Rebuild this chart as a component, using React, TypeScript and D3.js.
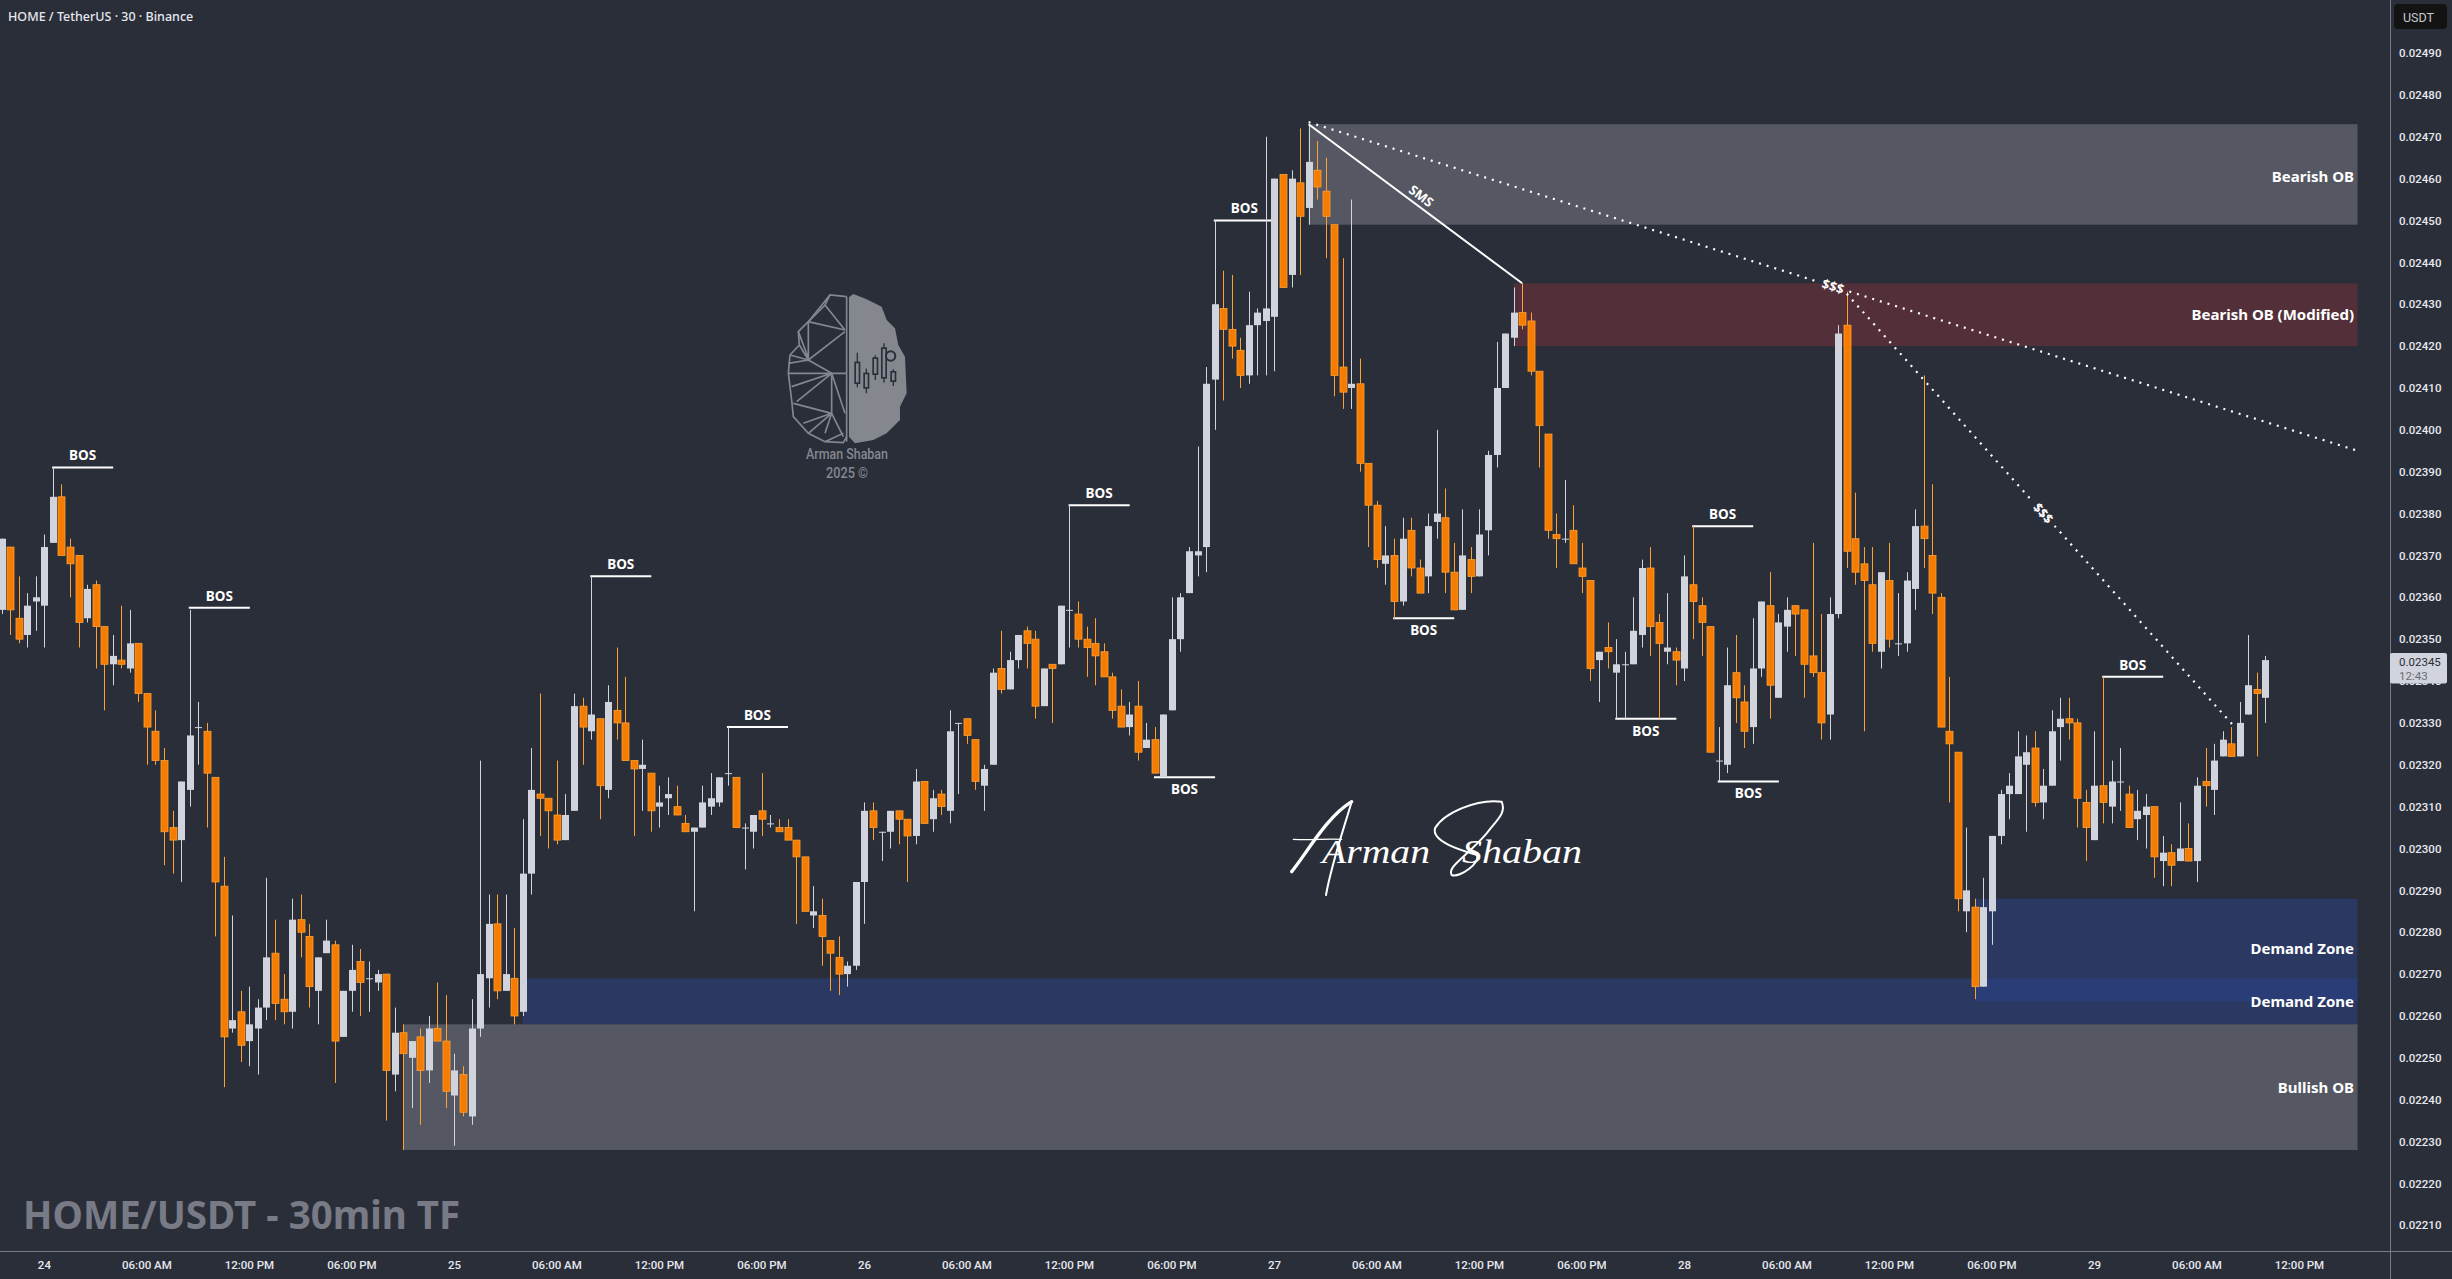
import {useEffect, useRef} from "react"
import * as d3 from "d3"

// prices are kept in ticks of 0.00001, candles are 30min, first one is 23rd 21:30
const opens = [
  2357, 2372, 2355, 2351, 2359, 2358, 2373, 2384, 2372, 2370, 2355, 2363, 2353, 2344, 2345, 2343, 2349, 2337, 2328, 2321,
  2305, 2302, 2314, 2329, 2328, 2317, 2291, 2257, 2261, 2254, 2257, 2262, 2275, 2264, 2261, 2283, 2279, 2266, 2275, 2277,
  2255, 2266, 2273, 2269, 2268, 2270, 2246, 2256, 2250, 2255, 2247, 2257, 2254, 2241, 2246, 2236, 2257, 2269, 2282, 2266,
  2269, 2261, 2294, 2313, 2312, 2308, 2302, 2309, 2334, 2328, 2331, 2314, 2333, 2330, 2321, 2319, 2318, 2310, 2312, 2310,
  2306, 2304, 2305, 2310, 2311, 2318, 2317, 2305, 2304, 2309, 2306, 2305, 2305, 2302, 2298, 2284, 2284, 2278, 2274, 2270,
  2272, 2292, 2309, 2304, 2304, 2309, 2307, 2303, 2316, 2307, 2313, 2309, 2330, 2331, 2326, 2315, 2320, 2343, 2338, 2345,
  2352, 2350, 2334, 2344, 2344, 2357, 2356, 2350, 2349, 2347, 2341, 2334, 2329, 2334, 2324, 2326, 2317, 2333, 2350, 2361,
  2370, 2372, 2412, 2429, 2424, 2419, 2413, 2425, 2426, 2427, 2461, 2437, 2459, 2453, 2462, 2457, 2449, 2415, 2410, 2411,
  2392, 2382, 2368, 2370, 2359, 2376, 2367, 2365, 2378, 2379, 2366, 2357, 2369, 2365, 2376, 2394, 2410, 2422, 2428, 2426,
  2414, 2399, 2375, 2374, 2376, 2367, 2364, 2345, 2348, 2342, 2344, 2344, 2351, 2367, 2354, 2347, 2347, 2343, 2363, 2358,
  2353, 2321, 2320, 2342, 2335, 2329, 2343, 2358, 2336, 2353, 2358, 2357, 2346, 2342, 2332, 2356, 2425, 2374, 2368, 2363,
  2347, 2364, 2349, 2349, 2362, 2377, 2370, 2360, 2328, 2323, 2285, 2286, 2267, 2285, 2303, 2313, 2313, 2320, 2324, 2311,
  2315, 2329, 2331, 2330, 2311, 2302, 2315, 2310, 2316, 2313, 2307, 2308, 2310, 2297, 2299, 2297, 2300, 2297, 2316, 2314,
  2322, 2325, 2322, 2332, 2338, 2336,
]
const closes = [
  2374, 2357, 2350, 2358, 2360, 2372, 2384, 2370, 2368, 2354, 2362, 2353, 2344, 2346, 2344, 2349, 2337, 2329, 2321, 2304,
  2302, 2316, 2327, 2329, 2318, 2292, 2255, 2259, 2253, 2258, 2262, 2274, 2263, 2261, 2283, 2280, 2267, 2274, 2278, 2254,
  2266, 2271, 2268, 2269, 2270, 2247, 2256, 2251, 2254, 2247, 2257, 2254, 2242, 2247, 2237, 2257, 2270, 2282, 2266, 2270,
  2260, 2294, 2314, 2312, 2309, 2302, 2308, 2334, 2329, 2332, 2315, 2335, 2330, 2321, 2319, 2320, 2309, 2311, 2313, 2308,
  2304, 2305, 2311, 2312, 2317, 2318, 2305, 2305, 2308, 2307, 2306, 2304, 2302, 2298, 2285, 2285, 2279, 2275, 2270, 2272,
  2292, 2309, 2305, 2304, 2309, 2307, 2303, 2316, 2306, 2312, 2310, 2328, 2330, 2327, 2316, 2319, 2342, 2338, 2345, 2351,
  2349, 2334, 2343, 2343, 2358, 2357, 2350, 2348, 2346, 2341, 2333, 2329, 2332, 2323, 2326, 2318, 2332, 2350, 2360, 2371,
  2371, 2411, 2430, 2424, 2420, 2413, 2425, 2428, 2429, 2460, 2434, 2460, 2451, 2464, 2458, 2451, 2413, 2409, 2411, 2392,
  2382, 2369, 2370, 2359, 2374, 2367, 2361, 2377, 2380, 2366, 2357, 2370, 2365, 2375, 2394, 2410, 2423, 2428, 2425, 2414,
  2401, 2376, 2374, 2374, 2368, 2365, 2343, 2347, 2347, 2344, 2344, 2352, 2367, 2353, 2349, 2348, 2345, 2365, 2359, 2354,
  2323, 2321, 2339, 2336, 2328, 2343, 2359, 2339, 2354, 2357, 2356, 2344, 2342, 2330, 2356, 2423, 2371, 2366, 2364, 2349,
  2366, 2350, 2349, 2364, 2377, 2374, 2361, 2329, 2325, 2288, 2290, 2267, 2286, 2303, 2313, 2315, 2322, 2323, 2311, 2315,
  2328, 2331, 2330, 2312, 2305, 2315, 2311, 2316, 2316, 2305, 2309, 2310, 2298, 2299, 2296, 2300, 2297, 2315, 2315, 2321,
  2326, 2322, 2330, 2339, 2337, 2345,
]
const highs = [
  2374, 2372, 2365, 2361, 2365, 2375, 2391, 2387, 2374, 2370, 2363, 2364, 2353, 2351, 2358, 2357, 2349, 2337, 2333, 2324,
  2309, 2316, 2357, 2335, 2330, 2317, 2298, 2284, 2266, 2267, 2264, 2293, 2283, 2270, 2288, 2289, 2282, 2274, 2283, 2278,
  2266, 2277, 2276, 2273, 2271, 2270, 2262, 2258, 2254, 2257, 2260, 2268, 2265, 2251, 2248, 2264, 2321, 2289, 2289, 2289,
  2281, 2307, 2324, 2337, 2312, 2321, 2313, 2337, 2336, 2365, 2331, 2339, 2348, 2341, 2321, 2326, 2318, 2315, 2317, 2315,
  2308, 2305, 2315, 2318, 2317, 2329, 2317, 2306, 2308, 2318, 2308, 2307, 2307, 2302, 2298, 2291, 2288, 2278, 2279, 2273,
  2292, 2311, 2311, 2304, 2309, 2309, 2307, 2319, 2316, 2314, 2314, 2333, 2330, 2331, 2326, 2320, 2343, 2352, 2347, 2351,
  2353, 2352, 2343, 2344, 2358, 2382, 2359, 2353, 2355, 2349, 2342, 2338, 2335, 2340, 2330, 2329, 2332, 2360, 2361, 2372,
  2396, 2415, 2450, 2438, 2437, 2422, 2433, 2429, 2470, 2460, 2461, 2462, 2472, 2473, 2469, 2465, 2449, 2441, 2455, 2417,
  2392, 2383, 2377, 2374, 2379, 2379, 2369, 2380, 2400, 2386, 2373, 2381, 2372, 2381, 2395, 2421, 2423, 2434, 2435, 2428,
  2414, 2399, 2380, 2388, 2382, 2373, 2364, 2347, 2354, 2350, 2347, 2360, 2369, 2372, 2356, 2361, 2348, 2370, 2377, 2360,
  2353, 2329, 2348, 2351, 2339, 2355, 2359, 2366, 2356, 2360, 2358, 2357, 2373, 2356, 2360, 2425, 2433, 2385, 2372, 2372,
  2366, 2373, 2361, 2366, 2381, 2413, 2387, 2361, 2341, 2323, 2305, 2288, 2293, 2303, 2314, 2318, 2328, 2327, 2328, 2319,
  2333, 2336, 2336, 2331, 2314, 2328, 2341, 2321, 2324, 2315, 2314, 2313, 2310, 2303, 2301, 2311, 2306, 2317, 2324, 2325,
  2328, 2329, 2335, 2351, 2342, 2346,
]
const lows = [
  2356, 2351, 2349, 2348, 2352, 2348, 2373, 2370, 2360, 2348, 2354, 2343, 2333, 2339, 2343, 2342, 2335, 2320, 2320, 2296,
  2294, 2292, 2310, 2320, 2305, 2279, 2243, 2256, 2249, 2248, 2246, 2259, 2259, 2258, 2257, 2274, 2262, 2258, 2275, 2244,
  2255, 2261, 2260, 2261, 2266, 2235, 2242, 2228, 2238, 2234, 2244, 2254, 2238, 2229, 2236, 2234, 2255, 2262, 2264, 2266,
  2258, 2260, 2289, 2303, 2300, 2301, 2302, 2309, 2320, 2326, 2307, 2312, 2326, 2321, 2303, 2309, 2304, 2305, 2308, 2308,
  2304, 2285, 2305, 2308, 2310, 2315, 2305, 2295, 2300, 2303, 2305, 2304, 2302, 2282, 2285, 2281, 2272, 2266, 2265, 2267,
  2271, 2282, 2302, 2297, 2300, 2301, 2292, 2301, 2306, 2304, 2308, 2306, 2313, 2325, 2314, 2309, 2320, 2337, 2338, 2343,
  2343, 2331, 2334, 2330, 2344, 2348, 2348, 2341, 2339, 2341, 2331, 2329, 2327, 2321, 2324, 2318, 2317, 2333, 2347, 2361,
  2365, 2366, 2400, 2407, 2417, 2410, 2411, 2413, 2413, 2414, 2434, 2434, 2437, 2449, 2455, 2441, 2408, 2405, 2405, 2390,
  2372, 2367, 2363, 2355, 2358, 2365, 2361, 2361, 2374, 2361, 2357, 2357, 2361, 2365, 2370, 2391, 2410, 2420, 2424, 2413,
  2391, 2374, 2367, 2373, 2368, 2361, 2340, 2335, 2343, 2331, 2331, 2344, 2348, 2346, 2331, 2344, 2339, 2340, 2350, 2346,
  2323, 2316, 2318, 2330, 2324, 2325, 2341, 2331, 2336, 2347, 2346, 2336, 2341, 2326, 2326, 2355, 2367, 2363, 2328, 2347,
  2343, 2348, 2346, 2347, 2357, 2367, 2356, 2329, 2311, 2285, 2280, 2264, 2267, 2277, 2301, 2307, 2313, 2304, 2310, 2307,
  2315, 2321, 2326, 2305, 2297, 2302, 2306, 2306, 2309, 2305, 2302, 2300, 2293, 2291, 2291, 2297, 2297, 2292, 2310, 2308,
  2322, 2322, 2322, 2332, 2322, 2330,
]

const dayTicks = [
  "24", "06:00 AM", "12:00 PM", "06:00 PM", "25", "06:00 AM", "12:00 PM", "06:00 PM", "26", "06:00 AM", "12:00 PM", "06:00 PM",
  "27", "06:00 AM", "12:00 PM", "06:00 PM", "28", "06:00 AM", "12:00 PM", "06:00 PM", "29", "06:00 AM", "12:00 PM",
]
const firstTickBar = 5
const barsPerTick = 12
const priceTicks = d3.range(2210, 2500, 10)
const lastPrice = 2345

// from-bar, to-bar, top, bottom
const zones = [
  {bars: [153, 275.8], prices: [2473, 2449], color: "rgb(120,123,134)", alpha: 0.55},
  {bars: [177, 275.8], prices: [2435, 2420], color: "rgb(124,50,58)", alpha: 0.5},
  {bars: [231, 275.8], prices: [2288, 2263.5], color: "rgb(41,65,140)", alpha: 0.5},
  {bars: [61, 275.8], prices: [2269, 2258], color: "rgb(41,65,140)", alpha: 0.5},
  {bars: [47, 275.8], prices: [2258, 2228], color: "rgb(120,123,134)", alpha: 0.55},
]
const zoneLabels = [
  {text: "Bearish OB", price: 2460.6},
  {text: "Bearish OB (Modified)", price: 2427.5},
  {text: "Demand Zone", price: 2276},
  {text: "Demand Zone", price: 2263.5},
  {text: "Bullish OB", price: 2243},
]
// bar, price, side of the label
const bosMarks = [
  {bar: 5.9, price: 2391, side: -1},
  {bar: 21.9, price: 2357.5, side: -1},
  {bar: 68.9, price: 2365, side: -1},
  {bar: 84.9, price: 2329, side: -1},
  {bar: 124.9, price: 2382, side: -1},
  {bar: 134.9, price: 2317, side: 1},
  {bar: 141.9, price: 2450, side: -1},
  {bar: 162.9, price: 2355, side: 1},
  {bar: 188.9, price: 2331, side: 1},
  {bar: 197.9, price: 2377, side: -1},
  {bar: 200.9, price: 2316, side: 1},
  {bar: 245.9, price: 2341, side: -1},
]
const bosLength = 7.15
const smsLine = {from: [153, 2473], to: [178, 2435], label: "SMS"}
const sweepLines = [
  {from: [153, 2473.5], to: [275.8, 2395], label: "$$$", labelBar: 214.4},
  {from: [216, 2432.5], to: [261.2, 2329.5], label: "$$$", labelBar: 239},
]

const bg = "#2a2e39"
const upColor = "#d1d4dc"
const downColor = "#f57c00"
const downEdge = "#ffa033"
const axisColor = "#787b86"
const textColor = "#e6e8ee"
const logoColor = "#85878f"
const uiFont = "'Noto Sans', 'Open Sans', sans-serif"
const axisFont = "Roboto, 'Noto Sans', sans-serif"
const narrowFont = "'Liberation Sans Narrow', Roboto, sans-serif"

// brain logo, in its own 3x coordinates
const logoHalf = "M327 82L340 72L380 88L425 110L440 150L465 175L475 225L495 260L500 370L480 410L480 450L440 490L400 510L345 520L327 500Z"
const logoWire = [
  "M320 80L270 75L205 155L175 185L178 225L150 255L145 310L155 390L160 440L205 490L255 515L310 518L320 500",
  "M320 80V515",
  "M270 75L255 105L205 155L315 180M255 105L315 180M205 155V270L315 185M205 270L275 310M175 185L205 265M178 225L205 270",
  "M150 255L205 270M145 280L205 270M145 310L275 310L320 310M155 350L275 310M170 395L275 310L315 430M275 310V430",
  "M160 400L275 430M190 460L275 430M205 490L275 430M255 490L275 430L310 500M255 515L310 490",
]
const logoCandles = [
  {x: 352, wick: [248, 352], body: [275, 342]},
  {x: 379, wick: [296, 370], body: [308, 356]},
  {x: 406, wick: [256, 330], body: [262, 315]},
  {x: 432, wick: [220, 338], body: [232, 326]},
  {x: 460, wick: [298, 348], body: [303, 336]},
]
// swashes of the signature, same kind of coordinates
const signatureStrokes = [
  {d: "M95 305C140 250 200 140 275 95", w: 5},
  {d: "M275 95C250 180 215 280 198 375", w: 3},
  {d: "M100 208C150 212 200 205 245 208", w: 2},
  {d: "M725 95C650 85 550 130 525 175C515 215 600 240 650 255C665 275 600 325 575 315C560 290 620 260 680 190C710 150 740 130 725 95", w: 3},
]

export default function App() {
  const width = 2452
  const height = 1279
  const ref = useRef<SVGSVGElement>(null)

  useEffect(() => {
    const svg = d3.select(ref.current)
    svg.selectAll("*").remove()

    const xScale = d3.scaleLinear().domain([0, 265]).range([1.7, 2265.3])
    const yScale = d3.scaleLinear().domain([2300, 2360]).range([848.5, 597.3])
    const axisX = 2390
    const axisY = 1251
    const barWidth = 7

    svg.append("rect").attr("width", width).attr("height", height).attr("fill", bg)

    /**
     * Zones sit under everything else
     */
    svg
      .append("g")
      .selectAll("rect")
      .data(zones)
      .join("rect")
      .attr("x", (d) => xScale(d.bars[0]))
      .attr("width", (d) => xScale(d.bars[1]) - xScale(d.bars[0]))
      .attr("y", (d) => yScale(d.prices[0]))
      .attr("height", (d) => yScale(d.prices[1]) - yScale(d.prices[0]))
      .attr("fill", (d) => d.color)
      .attr("fill-opacity", (d) => d.alpha)

    /**
     * Logo
     */
    const logo = svg.append("g").attr("transform", "translate(740,270) scale(0.3333)")
    logo.append("path").attr("d", logoHalf).attr("fill", logoColor)
    logo
      .selectAll(".wire")
      .data(logoWire)
      .join("path")
      .attr("class", "wire")
      .attr("d", (d) => d)
      .attr("fill", "none")
      .attr("stroke", logoColor)
      .attr("stroke-width", 5)
    logoCandles.forEach((c) => {
      logo.append("line").attr("x1", c.x).attr("x2", c.x).attr("y1", c.wick[0]).attr("y2", c.wick[1]).attr("stroke", bg).attr("stroke-width", 4)
      logo.append("rect").attr("x", c.x - 9).attr("width", 18).attr("y", c.body[0]).attr("height", c.body[1] - c.body[0]).attr("fill", bg)
      logo.append("rect").attr("x", c.x - 4).attr("width", 8).attr("y", c.body[0] + 5).attr("height", c.body[1] - c.body[0] - 10).attr("fill", logoColor)
    })
    logo.append("circle").attr("cx", 452).attr("cy", 258).attr("r", 17).attr("fill", bg)
    logo.append("circle").attr("cx", 452).attr("cy", 258).attr("r", 11).attr("fill", logoColor)
    const logoText = [
      {text: "Arman Shaban", y: 459, w: 82},
      {text: "2025 ©", y: 478, w: 42},
    ]
    svg
      .append("g")
      .selectAll("text")
      .data(logoText)
      .join("text")
      .attr("x", (d) => 847 - d.w / 2)
      .attr("y", (d) => d.y)
      .attr("font-family", narrowFont)
      .attr("font-size", 15)
      .attr("font-weight", 500)
      .attr("textLength", (d) => d.w)
      .attr("lengthAdjust", "spacingAndGlyphs")
      .attr("fill", logoColor)
      .text((d) => d.text)

    /**
     * BOS marks, the candles cover them
     */
    const bos = svg.append("g")
    bos
      .selectAll("line")
      .data(bosMarks)
      .join("line")
      .attr("x1", (d) => xScale(d.bar))
      .attr("x2", (d) => xScale(d.bar + bosLength))
      .attr("y1", (d) => yScale(d.price))
      .attr("y2", (d) => yScale(d.price))
      .attr("stroke", "#ffffff")
      .attr("stroke-width", 2)
    bos
      .selectAll("text")
      .data(bosMarks)
      .join("text")
      .attr("x", (d) => xScale(d.bar + bosLength / 2))
      .attr("y", (d) => yScale(d.price) + d.side * 12)
      .attr("dy", "0.36em")
      .attr("text-anchor", "middle")
      .attr("font-family", uiFont)
      .attr("font-size", 13.5)
      .attr("font-weight", 700)
      .attr("fill", "#ffffff")
      .text("BOS")

    /**
     * Candles
     */
    const candles = svg
      .append("g")
      .selectAll("g")
      .data(d3.range(opens.length))
      .join("g")
    candles
      .append("line")
      .attr("x1", (i) => Math.round(xScale(i)) + 0.5)
      .attr("x2", (i) => Math.round(xScale(i)) + 0.5)
      .attr("y1", (i) => yScale(highs[i]))
      .attr("y2", (i) => yScale(lows[i]))
      .attr("stroke", (i) => (closes[i] >= opens[i] ? upColor : downEdge))
      .attr("stroke-width", 1)
    candles
      .append("rect")
      .attr("x", (i) => Math.round(xScale(i)) + 0.5 - barWidth / 2)
      .attr("width", barWidth)
      .attr("y", (i) => yScale(Math.max(opens[i], closes[i])))
      .attr("height", (i) => Math.max(1, Math.abs(yScale(opens[i]) - yScale(closes[i]))))
      .attr("fill", (i) => (closes[i] >= opens[i] ? upColor : downColor))
      .attr("stroke", (i) => (closes[i] >= opens[i] ? "none" : downEdge))
      .attr("stroke-width", 0.8)

    /**
     * Drawn lines and their labels
     */
    const lines = svg.append("g")
    const labelOn = (text, x, y, angle, dy) => {
      lines
        .append("text")
        .attr("transform", `translate(${x},${y}) rotate(${angle})`)
        .attr("dy", dy)
        .attr("text-anchor", "middle")
        .attr("font-family", uiFont)
        .attr("font-size", 13)
        .attr("font-weight", 700)
        .attr("fill", "#ffffff")
        .text(text)
    }
    const sx1 = xScale(smsLine.from[0])
    const sy1 = yScale(smsLine.from[1])
    const sx2 = xScale(smsLine.to[0])
    const sy2 = yScale(smsLine.to[1])
    lines.append("line").attr("x1", sx1).attr("y1", sy1).attr("x2", sx2).attr("y2", sy2).attr("stroke", "#ffffff").attr("stroke-width", 2)
    labelOn(
      smsLine.label,
      sx1 + (sx2 - sx1) * 0.5,
      sy1 + (sy2 - sy1) * 0.5,
      (Math.atan2(sy2 - sy1, sx2 - sx1) * 180) / Math.PI,
      -5
    )

    sweepLines.forEach((l) => {
      const x1 = xScale(l.from[0])
      const y1 = yScale(l.from[1])
      const x2 = xScale(l.to[0])
      const y2 = yScale(l.to[1])
      const t = (xScale(l.labelBar) - x1) / (x2 - x1)
      const len = Math.hypot(x2 - x1, y2 - y1)
      const gap = 17 / len
      const segments = [
        [0, t - gap],
        [t + gap, 1],
      ]
      segments.forEach(([a, b]) => {
        lines
          .append("line")
          .attr("x1", x1 + (x2 - x1) * a)
          .attr("y1", y1 + (y2 - y1) * a)
          .attr("x2", x1 + (x2 - x1) * b)
          .attr("y2", y1 + (y2 - y1) * b)
          .attr("stroke", "#ffffff")
          .attr("stroke-width", 2.2)
          .attr("stroke-dasharray", "2 6")
      })
      labelOn(
        l.label,
        x1 + (x2 - x1) * t,
        y1 + (y2 - y1) * t,
        (Math.atan2(y2 - y1, x2 - x1) * 180) / Math.PI,
        "0.36em"
      )
    })

    /**
     * Zone labels
     */
    svg
      .append("g")
      .selectAll("text")
      .data(zoneLabels)
      .join("text")
      .attr("x", 2354)
      .attr("y", (d) => yScale(d.price))
      .attr("dy", "0.36em")
      .attr("text-anchor", "end")
      .attr("font-family", uiFont)
      .attr("font-size", 15)
      .attr("font-weight", 700)
      .attr("fill", "#ffffff")
      .text((d) => d.text)

    /**
     * Signature and captions
     */
    const signature = svg.append("g")
    signature
      .append("g")
      .attr("transform", "translate(1260,770) scale(0.3333)")
      .selectAll("path")
      .data(signatureStrokes)
      .join("path")
      .attr("d", (d) => d.d)
      .attr("fill", "none")
      .attr("stroke", "#ffffff")
      .attr("stroke-width", (d) => d.w * 2)
      .attr("stroke-linecap", "round")
    const signatureWords = [
      {text: "Arman", x: 1322, w: 108},
      {text: "Shaban", x: 1462, w: 120},
    ]
    signature
      .selectAll("text")
      .data(signatureWords)
      .join("text")
      .attr("x", (d) => d.x)
      .attr("y", 863)
      .attr("font-family", "'Liberation Serif', serif")
      .attr("font-style", "italic")
      .attr("font-size", 34)
      .attr("textLength", (d) => d.w)
      .attr("lengthAdjust", "spacingAndGlyphs")
      .attr("fill", "#ffffff")
      .text((d) => d.text)
    svg
      .append("text")
      .attr("x", 23)
      .attr("y", 1229)
      .attr("font-family", uiFont)
      .attr("font-size", 38.5)
      .attr("font-weight", 700)
      .attr("fill", axisColor)
      .text("HOME/USDT - 30min TF")
    svg
      .append("text")
      .attr("x", 8)
      .attr("y", 21)
      .attr("font-family", uiFont)
      .attr("font-size", 12.5)
      .attr("font-weight", 500)
      .attr("fill", textColor)
      .text("HOME / TetherUS · 30 · Binance")

    /**
     * Axes
     */
    svg.append("rect").attr("x", axisX).attr("width", width - axisX).attr("height", height).attr("fill", bg)
    svg.append("rect").attr("y", axisY).attr("width", width).attr("height", height - axisY).attr("fill", bg)
    svg.append("line").attr("x1", axisX + 0.5).attr("x2", axisX + 0.5).attr("y1", 0).attr("y2", height).attr("stroke", axisColor)
    svg.append("line").attr("x1", 0).attr("x2", width).attr("y1", axisY + 0.5).attr("y2", axisY + 0.5).attr("stroke", axisColor)

    const priceFormat = d3.format(".5f")
    svg
      .append("g")
      .selectAll("text")
      .data(priceTicks)
      .join("text")
      .attr("x", 2399)
      .attr("y", (d) => yScale(d))
      .attr("dy", "0.36em")
      .attr("font-family", axisFont)
      .attr("font-size", 11.5)
      .attr("font-weight", 500)
      .attr("fill", textColor)
      .text((d) => priceFormat(d / 100000))
    svg
      .append("g")
      .selectAll("text")
      .data(dayTicks)
      .join("text")
      .attr("x", (d, i) => xScale(firstTickBar + i * barsPerTick))
      .attr("y", 1265)
      .attr("dy", "0.36em")
      .attr("text-anchor", "middle")
      .attr("font-family", axisFont)
      .attr("font-size", 11.5)
      .attr("font-weight", 500)
      .attr("fill", textColor)
      .text((d) => d)

    /**
     * Last price tag and unit box
     */
    const tagY = yScale(lastPrice)
    svg.append("rect").attr("x", axisX).attr("y", tagY - 7).attr("width", 57).attr("height", 30.5).attr("rx", 2).attr("fill", upColor)
    svg
      .append("text")
      .attr("x", 2399)
      .attr("y", tagY + 2)
      .attr("dy", "0.36em")
      .attr("font-family", axisFont)
      .attr("font-size", 11.5)
      .attr("fill", "#2a2e39")
      .text(priceFormat(lastPrice / 100000))
    svg
      .append("text")
      .attr("x", 2399)
      .attr("y", tagY + 15.5)
      .attr("dy", "0.36em")
      .attr("font-family", axisFont)
      .attr("font-size", 11.5)
      .attr("fill", "#6a6d78")
      .text("12:43")
    svg.append("rect").attr("x", 2394).attr("y", 4).attr("width", 53).attr("height", 25).attr("rx", 4).attr("fill", "#131313")
    svg
      .append("text")
      .attr("x", 2403)
      .attr("y", 17)
      .attr("dy", "0.36em")
      .attr("font-family", axisFont)
      .attr("font-size", 12.5)
      .attr("fill", "#c8cad0")
      .text("USDT")

    return () => {
      svg.selectAll("*").remove()
    }
  }, [])

  return (
    <svg
      ref={ref}
      width={width}
      height={height}
      style={{position: "fixed", left: 0, top: 0, display: "block"}}
    ></svg>
  )
}
